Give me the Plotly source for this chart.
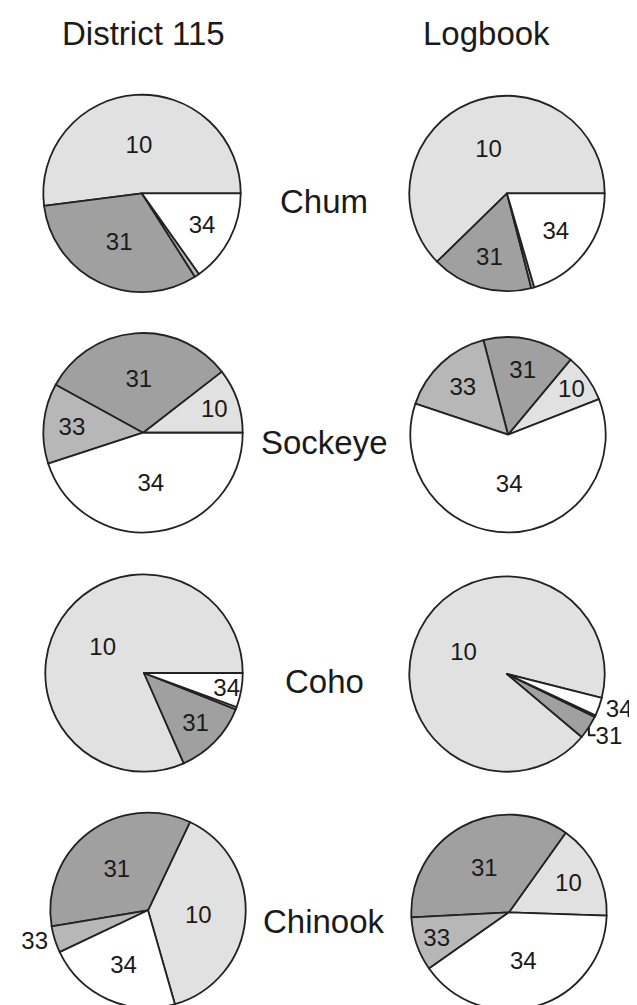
import plotly.graph_objects as go

W, H = 637, 1005

# ---------------- data (percent of catch by statistical area) ----------------
areas = ["10", "31", "33", "34"]
species = ["Chum", "Sockeye", "Coho", "Chinook"]
sources = ["District 115", "Logbook"]

district_chum = [52.0, 32.0, 0.8, 15.2]
district_sockeye = [10.5, 31.5, 13.0, 45.0]
district_coho = [81.6, 12.4, 0.4, 5.6]
district_chinook = [38.5, 34.7, 4.4, 22.4]

logbook_chum = [62.3, 16.7, 0.5, 20.5]
logbook_sockeye = [8.0, 15.1, 15.8, 61.1]
logbook_coho = [92.8, 3.9, 0.3, 3.0]
logbook_chinook = [15.7, 35.7, 8.9, 39.7]

# labels shown on each slice ("" = too small to label)
district_text = [
    ["10", "31", "", "34"],
    ["10", "31", "33", "34"],
    ["10", "31", "", "34"],
    ["10", "31", "33", "34"],
]
logbook_text = [
    ["10", "31", "", "34"],
    ["10", "31", "33", "34"],
    ["10", "31", "", "34"],
    ["10", "31", "33", "34"],
]

# ---------------- styling ----------------
colors = ["#e1e1e1", "#a0a0a0", "#b7b7b7", "#ffffff"]
FONT = "Liberation Sans, Arial, sans-serif"

# pixel layout: (centre x, centre y, radius, start angle of area 10
#               [math degrees, counter-clockwise from 3 o'clock], text positions)
district_layout = [
    (134, 186, 99, 0, ["inside"] * 4),
    (135, 426, 100, 0, ["inside"] * 4),
    (136, 667, 99, 0, ["inside"] * 4),
    (140, 905, 98, -74, ["inside", "inside", "outside", "inside"]),
]
logbook_layout = [
    (499, 186, 98, 0, ["inside"] * 4),
    (500, 428, 98, 21.4, ["inside"] * 4),
    (499, 668, 98, -14.2, ["inside", "outside", "inside", "outside"]),
    (501, 907, 98, -2, ["inside"] * 4),
]

district_values = [district_chum, district_sockeye, district_coho, district_chinook]
logbook_values = [logbook_chum, logbook_sockeye, logbook_coho, logbook_chinook]

fig = go.Figure()


def add_pie(vals, txt, lay, name):
    cx, cy, r, start, tpos = lay
    # plotly (counter-clockwise): first slice lies clockwise of the rotation
    # point, the following slices run counter-clockwise from it.
    end_first = start + 360.0 * vals[0] / sum(vals)
    rot = 90.0 - end_first
    fig.add_trace(go.Pie(
        labels=areas,
        values=vals,
        text=txt,
        textinfo="text",
        textposition=tpos,
        insidetextorientation="horizontal",
        textfont=dict(family=FONT, size=24, color="#1a1a1a"),
        sort=False,
        direction="counterclockwise",
        rotation=rot,
        marker=dict(colors=colors, line=dict(color="#222222", width=1.8)),
        domain=dict(x=[(cx - r) / W, (cx + r) / W],
                    y=[1 - (cy + r) / H, 1 - (cy - r) / H]),
        showlegend=False,
        hoverinfo="label+percent",
        name=name,
    ))


for i, sp in enumerate(species):
    add_pie(district_values[i], district_text[i], district_layout[i], f"{sources[0]} {sp}")
    add_pie(logbook_values[i], logbook_text[i], logbook_layout[i], f"{sources[1]} {sp}")

annotations = []
# column titles
for sx, s in zip([135, 478], sources):
    annotations.append(dict(x=sx / W, y=1 - 26 / H, xref="paper", yref="paper",
                            text=s, showarrow=False,
                            font=dict(family=FONT, size=33, color="#1a1a1a"),
                            xanchor="center", yanchor="middle"))
# row labels
for sy, sp in zip([194, 436, 676, 916], species):
    annotations.append(dict(x=316 / W, y=1 - sy / H, xref="paper", yref="paper",
                            text=sp, showarrow=False,
                            font=dict(family=FONT, size=33, color="#1a1a1a"),
                            xanchor="center", yanchor="middle"))

fig.update_layout(
    width=W, height=H,
    margin=dict(l=0, r=0, t=0, b=0),
    paper_bgcolor="white",
    plot_bgcolor="white",
    annotations=annotations,
    uniformtext=dict(mode="show", minsize=24),
)

fig.write_html("out.html")
